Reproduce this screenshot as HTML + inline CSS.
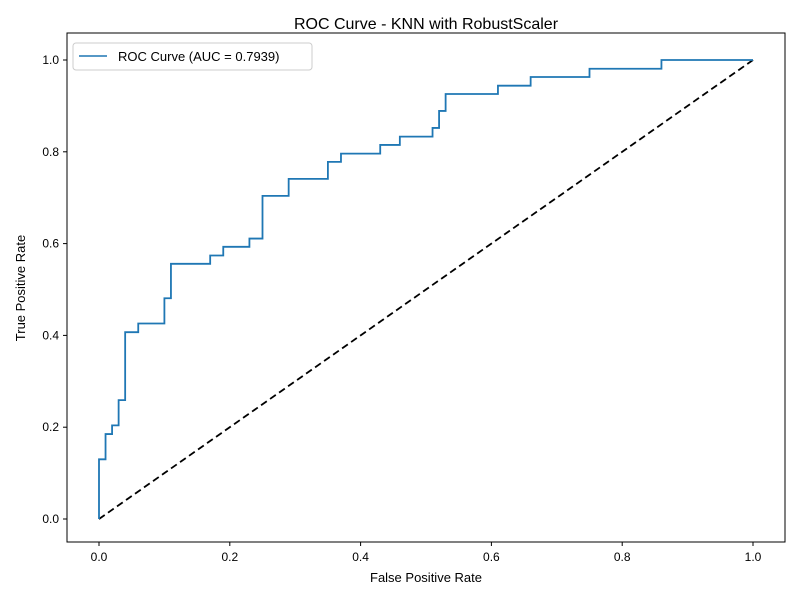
<!DOCTYPE html>
<html><head><meta charset="utf-8"><style>
body{margin:0;background:#fff;font-family:"Liberation Sans","DejaVu Sans",sans-serif}
svg text{font-family:"Liberation Sans","DejaVu Sans",sans-serif;fill:#000}
</style></head><body>
<svg id="chart" width="800" height="600" xmlns="http://www.w3.org/2000/svg">
<rect width="800" height="600" fill="#fff"/>
<text x="426" y="29" font-size="16" text-anchor="middle">ROC Curve - KNN with RobustScaler</text>
<g id="ticks"></g>
<g id="plot"></g>
<rect x="67" y="33" width="718" height="509" fill="none" stroke="#000" stroke-width="1"/>
<text x="426" y="582" font-size="13" text-anchor="middle">False Positive Rate</text>
<text x="25" y="288" font-size="13" text-anchor="middle" transform="rotate(-90 25 288)">True Positive Rate</text>
<g>
<rect x="73" y="43" width="239" height="27" rx="3" fill="#fff" stroke="#ccc"/>
<line x1="79" y1="56" x2="107" y2="56" stroke="#1f77b4" stroke-width="1.5"/>
<text x="118" y="61" font-size="13">ROC Curve (AUC = 0.7939)</text>
</g>
</svg>
<script>
const fpr=[0,0,0.01,0.01,0.02,0.02,0.03,0.03,0.04,0.04,0.06,0.06,0.10,0.10,0.11,0.11,0.17,0.17,0.19,0.19,0.23,0.23,0.25,0.25,0.29,0.29,0.35,0.35,0.37,0.37,0.43,0.43,0.46,0.46,0.51,0.51,0.52,0.52,0.53,0.53,0.61,0.61,0.66,0.66,0.75,0.75,0.86,0.86,1];
const tpr=[0,0.13,0.13,0.185,0.185,0.204,0.204,0.259,0.259,0.407,0.407,0.426,0.426,0.481,0.481,0.556,0.556,0.574,0.574,0.593,0.593,0.611,0.611,0.704,0.704,0.741,0.741,0.778,0.778,0.796,0.796,0.815,0.815,0.833,0.833,0.852,0.852,0.889,0.889,0.926,0.926,0.944,0.944,0.963,0.963,0.981,0.981,1,1];
const xTicks=[0,0.2,0.4,0.6,0.8,1.0];
const yTicks=[0,0.2,0.4,0.6,0.8,1.0];
const X=v=>99+654*v, Y=v=>519-459*v;
const NS="http://www.w3.org/2000/svg";
const ticks=document.getElementById('ticks'), plot=document.getElementById('plot');
function mk(tag,attrs,parent){const e=document.createElementNS(NS,tag);for(const k in attrs)e.setAttribute(k,attrs[k]);parent.appendChild(e);return e;}
xTicks.forEach(t=>{
  const l=mk('line',{x1:X(t),x2:X(t),y1:542,y2:546,stroke:'#000'},ticks);
  
  
  const tx=mk('text',{x:X(t),y:561,'font-size':12,'text-anchor':'middle'},ticks);
  tx.textContent=t.toFixed(1);
  
  
});
yTicks.forEach(t=>{
  const l=mk('line',{x1:63,x2:67,y1:Y(t),y2:Y(t),stroke:'#000'},ticks);
  
  
  const tx=mk('text',{x:59,y:Y(t)+4,'font-size':12,'text-anchor':'end'},ticks);
  tx.textContent=t.toFixed(1);
  
  
});
const diag=mk('line',{x1:X(0),y1:Y(0),x2:X(1),y2:Y(1),stroke:'#000','stroke-width':1.8,'stroke-dasharray':'7,4'},plot);


const pts=fpr.map((f,i)=>X(f)+','+Y(tpr[i])).join(' ');
const roc=mk('polyline',{points:pts,fill:'none',stroke:'#1f77b4','stroke-width':1.8},plot);


</script>
</body></html>
